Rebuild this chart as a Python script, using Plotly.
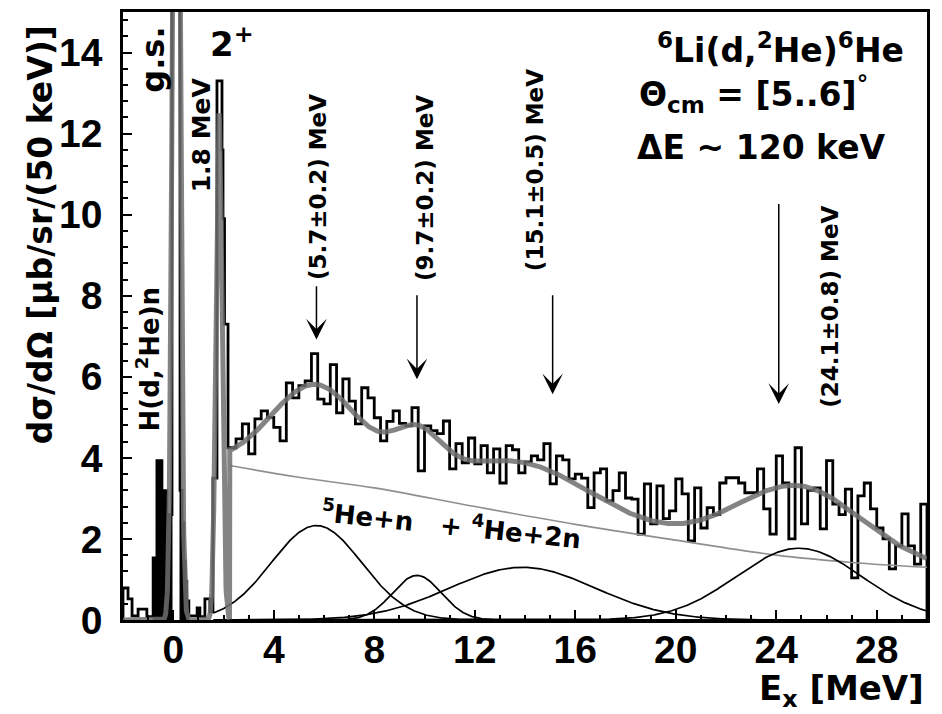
import numpy as np
import plotly.graph_objects as go

# ---- measured spectrum: low-energy part with variable bins (MeV) ----
peak_edges = [-2.0, -1.8, -1.64, -1.4, -1.05, -0.8, -0.65, -0.45, -0.25, -0.05,
              0.27, 0.35, 0.42, 0.48, 0.54, 0.62, 0.95, 1.06, 1.26, 1.46,
              1.58, 1.74, 1.94, 1.98, 2.04, 2.18, 2.25]
peak_counts = [0.79, 0.52, 0.1, 0.27, 0.08, 1.53, 3.93, 3.19, 2.6, 40.0,
               3.2, 2.4, 1.46, 0.96, 0.47, 0.1, 0.3, 0.08, 0.52, 0.2,
               3.5, 13.3, 11.6, 9.9, 7.3, 4.25]
# bins of the H(d,2He)n and g.s. region that are shaded solid
solid_bins = [5, 6, 7, 8, 10, 11, 12, 13, 14]

# ---- continuum part, 250 keV bins from 2.25 MeV ----
cont_start = 2.25
cont_width = 0.25
cont_counts = [
    4.25, 4.47, 4.84, 4.1, 4.96, 5.16, 5.0, 4.75, 4.42, 5.85,
    5.48, 5.78, 5.9, 6.57, 5.45, 5.33, 6.3, 5.11, 5.95, 5.4,
    4.84, 5.73, 5.48, 4.99, 4.42, 4.9, 5.16, 4.85, 4.79, 5.24,
    3.68, 4.79, 4.67, 4.6, 4.91, 3.73, 4.35, 3.88, 4.49, 3.85,
    4.3, 3.63, 4.22, 3.38, 4.3, 4.2, 3.63, 3.9, 4.05, 3.95,
    4.35, 3.36, 4.05, 3.95, 3.48, 3.6, 3.5, 2.77, 3.63, 3.73,
    2.94, 3.19, 3.63, 3.01, 2.98, 2.12, 3.36, 2.37, 3.31, 2.5,
    2.69, 3.48, 3.11, 1.95, 3.26, 2.27, 2.77, 2.6, 3.38, 3.51,
    3.51, 3.38, 3.14, 3.14, 3.73, 2.74, 2.12, 4.05, 3.38, 2.0,
    4.25, 2.37, 3.2, 3.26, 2.25, 3.93, 2.86, 2.6, 3.23, 1.04,
    3.06, 3.38, 2.74, 2.27, 2.0, 1.26, 1.83, 2.62, 1.83, 1.38,
    2.86,
]

# ---- fit: narrow peaks (g.s., 2+) ----
narrow_centers = [0.12, 1.82]
narrow_amps = [30.0, 12.5]
narrow_sigmas = [0.13, 0.12]

# ---- fit: broad resonances (centroid, amplitude, sigma) ----
broad_centers = [5.7, 9.7, 13.9, 24.9]
broad_amps = [2.33, 1.10, 1.30, 1.77]
broad_sigmas = [1.8, 0.97, 2.9, 2.5]

# ---- fit: 5He+n + 4He+2n background ----
bg_E = [2.25, 5.0, 8.0, 12.0, 16.0, 20.0, 24.0, 27.0, 30.0]
bg_val = [3.81, 3.52, 3.26, 2.8, 2.36, 1.97, 1.6, 1.42, 1.3]
bg_threshold = 2.25

# ---- arrows marking resonance energies ----
arrow_E = [5.7, 9.7, 15.1, 24.1]
arrow_tip = [6.92, 5.94, 5.57, 5.33]
arrow_tail = [8.27, 8.05, 8.05, 10.3]
arrow_text = ["(5.7±0.2) MeV", "(9.7±0.2) MeV", "(15.1±0.5) MeV", "(24.1±0.8) MeV"]
arrow_text_x = [5.76, 10.02, 14.4, 26.14]
arrow_text_y = [10.68, 10.66, 11.1, 7.73]

x_ticks = [0, 4, 8, 12, 16, 20, 24, 28]
y_ticks = [0, 2, 4, 6, 8, 10, 12, 14]

# histogram as a step outline
edges = list(peak_edges) + [cont_start + cont_width * (i + 1) for i in range(len(cont_counts))]
counts = list(peak_counts) + list(cont_counts)
hx, hy = [edges[0]], [0.0]
for i, c in enumerate(counts):
    hx += [edges[i], edges[i + 1]]
    hy += [c, c]
hx.append(edges[-1])
hy.append(0.0)

def gauss(E, a, c, s):
    return a * np.exp(-0.5 * ((E - c) / s) ** 2)

E = np.linspace(-2.0, 30.0, 3201)
total = np.zeros_like(E)
for a, c, s in zip(narrow_amps, narrow_centers, narrow_sigmas):
    total += gauss(E, a, c, s)
cont = np.interp(E, bg_E, bg_val)
for a, c, s in zip(broad_amps, broad_centers, broad_sigmas):
    cont += gauss(E, a, c, s)
total += np.where(E >= bg_threshold, cont, 0.0)

Eg = np.linspace(1.6, 30.0, 800)

fig = go.Figure()

# solid shading of the narrow low-energy bins
for i in solid_bins:
    fig.add_trace(go.Scatter(x=[peak_edges[i], peak_edges[i], peak_edges[i + 1], peak_edges[i + 1]],
                             y=[0, peak_counts[i], peak_counts[i], 0], mode="lines",
                             fill="toself", fillcolor="black",
                             line=dict(color="black", width=1), hoverinfo="skip"))

fig.add_trace(go.Scatter(x=hx, y=hy, mode="lines",
                         line=dict(color="black", width=2.8), hoverinfo="skip"))
fig.add_trace(go.Scatter(x=bg_E, y=bg_val, mode="lines",
                         line=dict(color="#8f8f8f", width=1.6, shape="spline"),
                         hoverinfo="skip"))
for a, c, s in zip(broad_amps, broad_centers, broad_sigmas):
    fig.add_trace(go.Scatter(x=Eg, y=gauss(Eg, a, c, s), mode="lines",
                             line=dict(color="black", width=1.7), hoverinfo="skip"))
fig.add_trace(go.Scatter(x=E, y=total, mode="lines",
                         line=dict(color="rgba(110,110,110,0.85)", width=5),
                         hoverinfo="skip"))

BOLD = "DejaVu Sans"
annotations = []
for xe, tip, tail in zip(arrow_E, arrow_tip, arrow_tail):
    annotations.append(dict(x=xe, y=tip, ax=xe, ay=tail, xref="x", yref="y",
                            axref="x", ayref="y", showarrow=True, arrowhead=3,
                            arrowsize=2.3, arrowwidth=1.5, arrowcolor="black", text=""))

def label(x, y, text, size, angle=0, xanchor="center", yanchor="middle"):
    annotations.append(dict(x=x, y=y, xref="x", yref="y", text=text, showarrow=False,
                            textangle=angle, xanchor=xanchor, yanchor=yanchor,
                            font=dict(family=BOLD, size=size, color="black", weight="bold")))

for t, xt, yt in zip(arrow_text, arrow_text_x, arrow_text_y):
    label(xt, yt, t, 23, angle=-90)

label(-0.81, 13.82, "g.s.", 32, angle=-90)
label(1.14, 11.98, "1.8 MeV", 25, angle=-90)
label(2.34, 14.25, "2<sup>+</sup>", 34)
label(-1.0, 6.43, "H(d,<sup>2</sup>He)n", 26, angle=-90)
label(11.09, 2.38, "<sup>5</sup>He+n\u00a0\u00a0\u00a0+ <sup>4</sup>He+2n", 26, angle=6)
label(19.17, 14.09, "<sup>6</sup>Li(d,<sup>2</sup>He)<sup>6</sup>He", 33, xanchor="left")
label(18.46, 12.96, "Θ<sub>cm</sub> = [5..6]<sup>°</sup>", 33, xanchor="left")
label(18.38, 11.66, "ΔE ~ 120 keV", 33, xanchor="left")

annotations.append(dict(x=-0.103, y=0.633, xref="paper", yref="paper", showarrow=False,
                        xanchor="center", yanchor="middle",
                        text="dσ/dΩ [μb/sr/(50 keV)]", textangle=-90,
                        font=dict(family=BOLD, size=33, color="black", weight="bold")))
annotations.append(dict(x=0.9985, y=-0.116, xref="paper", yref="paper", showarrow=False,
                        xanchor="right", yanchor="middle", text="E<sub>x</sub> [MeV]",
                        font=dict(family=BOLD, size=34, color="black", weight="bold")))

tickfont = dict(family="Liberation Sans", size=39, color="black", weight="bold")
fig.update_layout(
    width=942, height=714,
    margin=dict(l=123, r=15, t=9, b=94),
    paper_bgcolor="white", plot_bgcolor="white",
    showlegend=False,
    annotations=annotations,
    xaxis=dict(range=[-2.0, 30.0], tickvals=x_ticks, ticks="inside", ticklen=10,
               tickwidth=2, tickcolor="black", showline=True, linewidth=2.5,
               linecolor="black", mirror=True, showgrid=False, zeroline=False,
               tickfont=tickfont, ticklabelstandoff=-7,
               minor=dict(dtick=1, ticks="inside", ticklen=5, tickwidth=1.5,
                          tickcolor="black", showgrid=False)),
    yaxis=dict(range=[0, 15.0], tickvals=y_ticks, ticks="inside", ticklen=9,
               tickwidth=2, tickcolor="black", showline=True, linewidth=2.5,
               linecolor="black", mirror=True, showgrid=False, zeroline=False,
               tickfont=tickfont, ticklabelstandoff=10,
               minor=dict(dtick=0.4, ticks="inside", ticklen=5, tickwidth=1.5,
                          tickcolor="black", showgrid=False)),
)

fig.write_html("out.html")
